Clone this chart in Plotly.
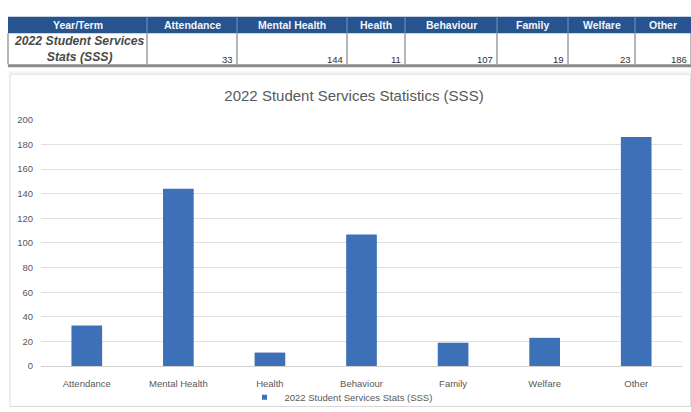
import plotly.graph_objects as go

# Student services counts for 2022
categories = ["Attendance", "Mental Health", "Health", "Behaviour", "Family", "Welfare", "Other"]
values = [33, 144, 11, 107, 19, 23, 186]
series_name = "2022 Student Services Stats (SSS)"
chart_title = "2022 Student Services Statistics (SSS)"
row_label = "2022 Student Services<br>Stats (SSS)"
header_first = "Year/Term"
y_ticks = [0, 20, 40, 60, 80, 100, 120, 140, 160, 180, 200]

W, H = 691, 412
FONT = "Liberation Sans, Arial, sans-serif"
BAR = "#3e70b8"
HEAD = "#27538f"
GREY_TXT = "#595959"

# table column edges (pixels from the left) and row edges (pixels from the top)
col_edges = [8, 147, 237, 347, 405, 497, 568, 635, 691]
row_top, row_mid, row_bot = 11, 28, 60


def py(px):
    """Pixel offset from the top -> paper y."""
    return 1 - px / H


def px_x(px):
    return px / W


fig = go.Figure()

fig.add_trace(go.Bar(
    x=categories,
    y=values,
    name=series_name,
    marker=dict(color=BAR, line=dict(width=0)),
    showlegend=False,
))
# small square legend key
fig.add_trace(go.Scatter(
    x=[None], y=[None], mode="markers", name=series_name,
    marker=dict(symbol="square", size=5, color=BAR),
    showlegend=True,
))

shapes = []
annotations = []

# chart panel outline
shapes.append(dict(type="rect", xref="paper", yref="paper",
                   x0=px_x(10), x1=px_x(690.5), y0=py(411.5), y1=py(70),
                   line=dict(color="#d9d9d9", width=1), layer="below"))

# table header band
shapes.append(dict(type="rect", xref="paper", yref="paper",
                   x0=px_x(col_edges[0]), x1=px_x(col_edges[-1]),
                   y0=py(row_mid), y1=py(row_top),
                   fillcolor=HEAD, line=dict(width=0)))
# column separators
for i, xe in enumerate(col_edges):
    shapes.append(dict(type="line", xref="paper", yref="paper",
                       x0=px_x(xe), x1=px_x(xe), y0=py(row_bot), y1=py(row_mid),
                       line=dict(color="#6f6f6f", width=1)))
    if 0 < i < len(col_edges) - 1:
        shapes.append(dict(type="line", xref="paper", yref="paper",
                           x0=px_x(xe), x1=px_x(xe), y0=py(row_mid), y1=py(row_top),
                           line=dict(color="#7d95b8", width=1)))
# heavy rule under the table
shapes.append(dict(type="line", xref="paper", yref="paper",
                   x0=px_x(col_edges[0]), x1=px_x(col_edges[-1]),
                   y0=py(61.5), y1=py(61.5),
                   line=dict(color="#8a8a8a", width=3)))
shapes.append(dict(type="line", xref="paper", yref="paper",
                   x0=px_x(col_edges[0]), x1=px_x(col_edges[-1]),
                   y0=py(68), y1=py(68),
                   line=dict(color="#ececec", width=1)))

# header text
headers = [header_first] + categories
for i, h in enumerate(headers):
    xc = (col_edges[i] + col_edges[i + 1]) / 2
    annotations.append(dict(xref="paper", yref="paper", x=px_x(xc), y=py((row_top + row_mid) / 2),
                            text=f"<b>{h}</b>", showarrow=False, xanchor="center", yanchor="middle",
                            font=dict(family=FONT, size=10.5, color="#f4f6fa")))
# row label
annotations.append(dict(xref="paper", yref="paper",
                        x=px_x((col_edges[0] + col_edges[1]) / 2 + 2), y=py((row_mid + row_bot) / 2),
                        text=f"<b><i>{row_label}</i></b>", showarrow=False,
                        xanchor="center", yanchor="middle",
                        font=dict(family=FONT, size=12.2, color="#4a4a4a")))
# row values, right aligned at the bottom of each cell
for i, v in enumerate(values):
    annotations.append(dict(xref="paper", yref="paper", x=px_x(col_edges[i + 2] - 2), y=py(54.5),
                            text=str(v), showarrow=False, xanchor="right", yanchor="middle",
                            font=dict(family=FONT, size=9.5, color="#303030")))

fig.update_layout(
    width=W,
    height=H,
    margin=dict(l=0, r=0, t=0, b=0),
    paper_bgcolor="white",
    plot_bgcolor="white",
    font=dict(family=FONT, color=GREY_TXT),
    bargap=0.665,
    title=dict(
        text=chart_title,
        x=px_x(354), xanchor="center",
        y=py(96), yanchor="middle",
        font=dict(family=FONT, size=15, color=GREY_TXT),
    ),
    xaxis=dict(
        domain=[px_x(41), px_x(682)],
        showgrid=False,
        showline=True,
        linecolor="#d0d0d0",
        ticks="",
        ticklabelstandoff=8,
        tickfont=dict(size=9.5, color=GREY_TXT),
        anchor="y",
    ),
    yaxis=dict(
        domain=[py(370), py(117)],
        range=[0, 200],
        tickvals=y_ticks,
        showgrid=True,
        gridcolor="#e0e0e0",
        gridwidth=1,
        zeroline=False,
        showline=False,
        ticks="",
        ticklabelstandoff=7,
        tickfont=dict(size=9.5, color=GREY_TXT),
        anchor="x",
    ),
    legend=dict(
        orientation="h",
        x=px_x(341), xanchor="center",
        y=py(402), yanchor="middle",
        bgcolor="rgba(0,0,0,0)",
        font=dict(size=9.5, color=GREY_TXT),
        itemwidth=30,
        tracegroupgap=0,
    ),
    shapes=shapes,
    annotations=annotations,
)

fig.write_html("out.html")
